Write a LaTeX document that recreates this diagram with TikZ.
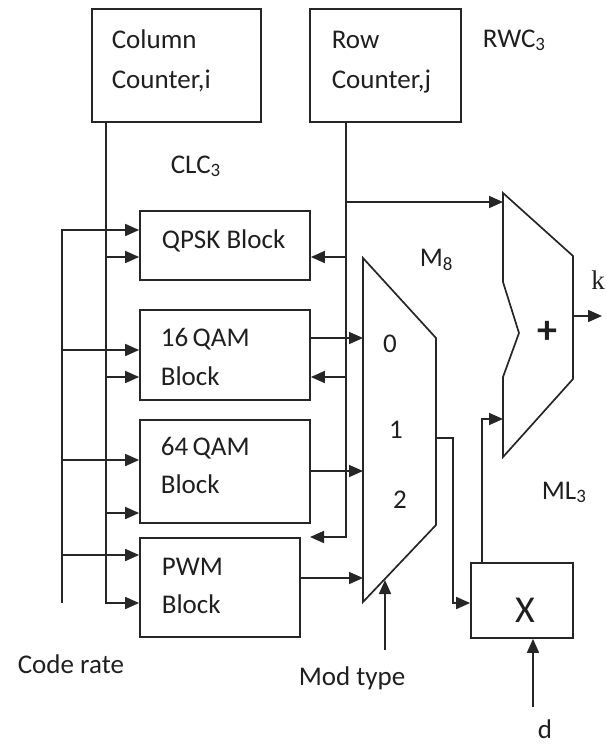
\documentclass[tikz,border=0pt]{standalone}
\usepackage{fontspec}
\setmainfont{Carlito}
\newfontfamily\serifk{Liberation Serif}
\usetikzlibrary{arrows.meta}
\begin{document}
\begin{tikzpicture}[x=1pt,y=-1pt, line width=1.7pt, draw=black!85,
  box/.style={draw, rectangle, inner sep=0pt},
  txt/.style={inner sep=0pt, anchor=base west, text=black!88, font=\fontsize{27}{30}\selectfont},
  ctxt/.style={inner sep=0pt, anchor=center, text=black!88, font=\fontsize{27}{30}\selectfont},
  arr/.style={-{Triangle[length=14pt,width=12pt]}},
]
\useasboundingbox (0,0) rectangle (607,745);
% boxes
\node[box, minimum width=169pt, minimum height=113pt] (col) at (176.5,65.5) {};
\node[box, minimum width=151pt, minimum height=113pt] (row) at (385.5,65.5) {};
\node[box, minimum width=170pt, minimum height=69pt] (qpsk) at (225,245.5) {};
\node[box, minimum width=170pt, minimum height=90pt] (q16) at (225,355) {};
\node[box, minimum width=170pt, minimum height=103pt] (q64) at (225,471.5) {};
\node[box, minimum width=160pt, minimum height=99pt] (pwm) at (220,587.5) {};
\node[box, minimum width=102pt, minimum height=75pt] (xb) at (522,600.5) {};
% mux
\coordinate (mA) at (363,258);
\coordinate (mB) at (436,338);
\coordinate (mC) at (436,525);
\coordinate (mD) at (363,602);
\draw[line join=miter] (mA) -- (mB) -- (mC) -- (mD) -- cycle;
% adder
\coordinate (aA) at (503,193);
\coordinate (aB) at (573,256);
\coordinate (aC) at (573,379);
\coordinate (aD) at (503,457);
\coordinate (aE) at (503,377);
\coordinate (aF) at (519,333);
\coordinate (aG) at (503,282);
\draw[line join=miter] (aA) -- (aB) -- (aC) -- (aD) -- (aE) -- (aF) -- (aG) -- cycle;
% texts
\node[txt] (colA) at (111,48) {Column};
\node[txt] (colB) at (111,88) {Counter,i};
\node[txt] (rowA) at (331,48) {Row};
\node[txt] (rowB) at (331,88) {Counter,j};
\node[txt] (rwc) at (482,47) {RWC\textsubscript{3}};
\node[txt] (clc) at (170,173) {CLC\textsubscript{3}};
\node[txt] (qpskT) at (161,248) {QPSK Block};
\node[txt] (q16A) at (160,346) {16\,QAM};
\node[txt] (q16B) at (160,385) {Block};
\node[txt] (q64A) at (160,455) {64\,QAM};
\node[txt] (q64B) at (160,493) {Block};
\node[txt] (pwmA) at (161,575) {PWM};
\node[txt] (pwmB) at (161,613) {Block};
\node[txt] (m8) at (419,266) {M\textsubscript{8}};
\node[txt, anchor=base] (in0) at (390,352) {0};
\node[txt, anchor=base] (in1) at (396,438) {1};
\node[txt, anchor=base] (in2) at (400,508) {2};
\node[ctxt, font=\fontsize{40}{40}\selectfont\bfseries] (plus) at (547,332) {+};
\node[ctxt, font=\serifk\fontsize{27}{30}\selectfont] (k) at (598,280) {k};
\node[txt] (ml) at (541,499) {ML\textsubscript{3}};
\node[ctxt, font=\fontsize{38}{40}\selectfont] (xl) at (525,610) {X};
\node[txt, anchor=base] (d) at (545,738) {d};
\node[txt] (cr) at (17,673) {Code rate};
\node[txt] (mt) at (298,685) {Mod type};
% column counter lines
\coordinate (cq) at (106,257);
\coordinate (c16) at (106,377);
\coordinate (c64) at (106,513);
\coordinate (cl) at (106,603);
\draw[arr] (col.south -| cl) -- (cl) -- (cl -| pwm.west);
\draw[arr] (cq) -- (cq -| qpsk.west);
\draw[arr] (c16) -- (c16 -| q16.west);
\draw[arr] (c64) -- (c64 -| q64.west);
% code rate lines
\coordinate (rtop) at (62,230);
\coordinate (r16) at (62,350);
\coordinate (r64) at (62,460);
\coordinate (rp) at (62,555);
\coordinate (rbot) at (62,603);
\draw[arr] (rbot) -- (rtop) -- (rtop -| qpsk.west);
\draw[arr] (r16) -- (r16 -| q16.west);
\draw[arr] (r64) -- (r64 -| q64.west);
\draw[arr] (rp) -- (rp -| pwm.west);
% row counter lines
\coordinate (jt) at (346,202);
\coordinate (jq) at (346,257);
\coordinate (j16) at (346,377);
\coordinate (jb) at (346,537);
\coordinate (jend) at (310,537);
\draw[arr] (row.south -| jb) -- (jb) -- (jend);
\draw[arr] (jt) -- (jt -| aA);
\draw[arr] (jq) -- (jq -| qpsk.east);
\draw[arr] (j16) -- (j16 -| q16.east);
% block outputs to mux
\coordinate (i0) at (363,338);
\coordinate (i1) at (363,471);
\coordinate (i2) at (363,578);
\draw[arr] (i0 -| q16.east) -- (i0);
\draw[arr] (i1 -| q64.east) -- (i1);
\draw[arr] (i2 -| pwm.east) -- (i2);
% mux output to multiplier
\coordinate (mo) at (436,438);
\coordinate (mk) at (453,438);
\coordinate (mk2) at (453,603);
\draw[arr] (mo) -- (mk) -- (mk2) -- (mk2 -| xb.west);
% mod type
\coordinate (mtb) at (385,650);
\coordinate (mtip) at (385,580);
\draw[arr] (mtb) -- (mtip);
% d input
\coordinate (db) at (533,707);
\draw[arr] (db) -- (db |- xb.south);
% multiplier to adder
\coordinate (xu) at (482,419);
\draw[arr] (xb.north -| xu) -- (xu) -- (xu -| aA);
% adder output
\coordinate (ao) at (573,316);
\coordinate (kend) at (602,316);
\draw[arr] (ao) -- (kend);
\end{tikzpicture}
\end{document}
